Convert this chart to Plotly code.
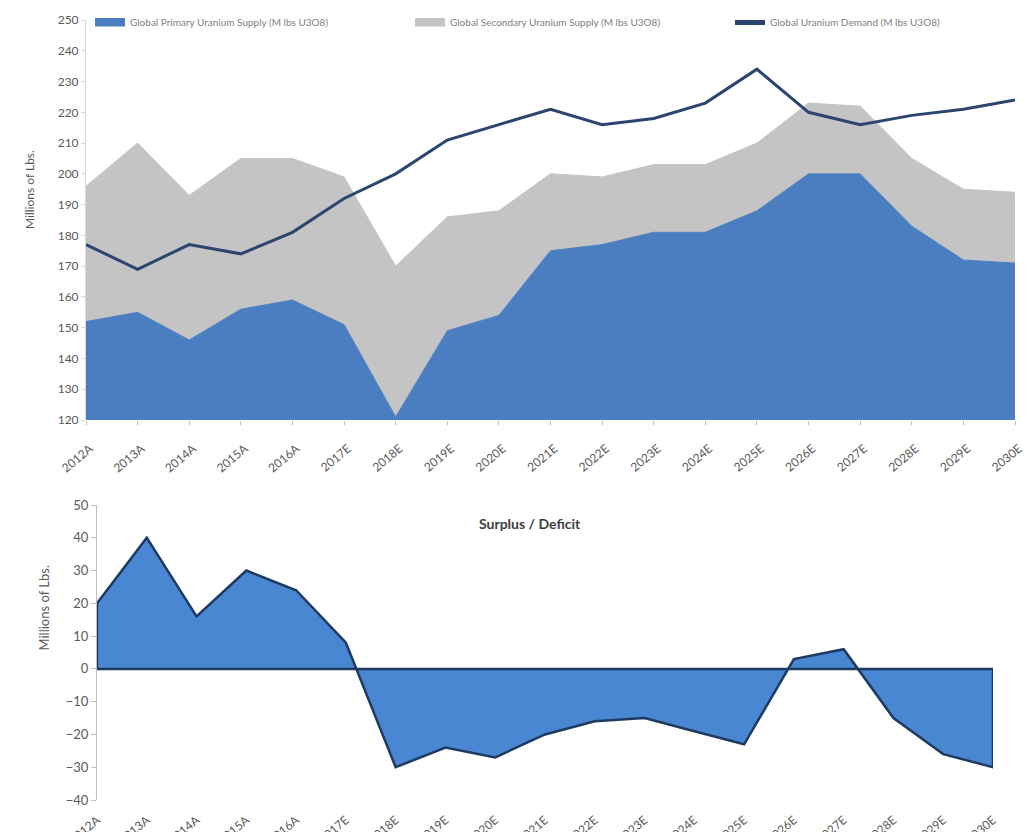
import plotly.graph_objects as go

categories = ["2012A", "2013A", "2014A", "2015A", "2016A", "2017E", "2018E", "2019E", "2020E",
              "2021E", "2022E", "2023E", "2024E", "2025E", "2026E", "2027E", "2028E", "2029E", "2030E"]
primary_supply = [152, 155, 146, 156, 159, 151, 121, 149, 154, 175, 177, 181, 181, 188, 200, 200, 183, 172, 171]
total_supply = [196, 210, 193, 205, 205, 199, 170, 186, 188, 200, 199, 203, 203, 210, 223, 222, 205, 195, 194]
demand = [177, 169, 177, 174, 181, 192, 200, 211, 216, 221, 216, 218, 223, 234, 220, 216, 219, 221, 224]
surplus = [20, 40, 16, 30, 24, 8, -30, -24, -27, -20, -16, -15, -19, -23, 3, 6, -15, -26, -30]

W, H = 1034, 832
OFF = 8  # page body margin
def px_x(p): return (p - OFF) / W
def px_y(p): return (H - (p - OFF)) / H

FONT = "Lato"
GREY_TXT = "#595959"

fig = go.Figure()

fig.add_trace(go.Scatter(
    x=categories, y=primary_supply, mode="lines", fill="tozeroy",
    line=dict(color="#4A7EC1", width=1), fillcolor="#4A7EC1",
    name="Global Primary Uranium Supply (M lbs U3O8)", xaxis="x", yaxis="y", legend="legend"))
fig.add_trace(go.Scatter(
    x=categories, y=total_supply, mode="lines", fill="tonexty",
    line=dict(color="#C4C4C4", width=1), fillcolor="#C4C4C4",
    name="Global Secondary Uranium Supply (M lbs U3O8)", xaxis="x", yaxis="y", legend="legend2"))
fig.add_trace(go.Scatter(
    x=categories, y=demand, mode="lines",
    line=dict(color="#2B4570", width=3),
    name="Global Uranium Demand (M lbs U3O8)", xaxis="x", yaxis="y", legend="legend3"))

# Surplus / deficit closed area (baseline back along zero)
poly_x = categories + [categories[-1], categories[0], categories[0]]
poly_y = surplus + [0, 0, surplus[0]]
fig.add_trace(go.Scatter(
    x=poly_x, y=poly_y, mode="lines", fill="toself",
    line=dict(color="#1F3A60", width=2.5), fillcolor="#4A87D3",
    showlegend=False, xaxis="x2", yaxis="y2"))

def leg(xpx):
    return dict(orientation="h", x=px_x(xpx), y=1, xanchor="left", yanchor="top",
                font=dict(size=10, color="#808080"), bgcolor="rgba(0,0,0,0)",
                itemsizing="constant")

fig.update_layout(
    width=W, height=H,
    margin=dict(l=0, r=0, t=0, b=0),
    paper_bgcolor="white", plot_bgcolor="white",
    font=dict(family=FONT, color=GREY_TXT),
    showlegend=True,
    legend=leg(90), legend2=leg(410), legend3=leg(730),
    xaxis=dict(domain=[px_x(86), px_x(1015)], anchor="y", type="category",
               categoryorder="array", categoryarray=categories,
               range=[0, len(categories) - 1], showgrid=False, zeroline=False,
               showline=False, ticks="outside", ticklen=4, tickcolor="#BFBFBF",
               tickangle=-40, ticklabelstandoff=12, ticklabelshift=4,
               tickfont=dict(size=12, color=GREY_TXT), automargin=False),
    yaxis=dict(domain=[px_y(420), px_y(20)], anchor="x", range=[120, 250], dtick=10,
               showgrid=False, zeroline=False, showline=True, linecolor="#D9D9D9",
               ticks="outside", ticklen=4, tickcolor="#D9D9D9",
               tickfont=dict(size=12, color=GREY_TXT), automargin=False),
    xaxis2=dict(domain=[px_x(97), px_x(993)], anchor="y2", type="category",
                categoryorder="array", categoryarray=categories,
                range=[0, len(categories) - 1], showgrid=False, zeroline=False,
                showline=False, ticks="", tickangle=-40, ticklabelstandoff=10,
                tickfont=dict(size=12, color=GREY_TXT), automargin=False),
    yaxis2=dict(domain=[px_y(800), px_y(505)], anchor="x2", range=[-40, 50], dtick=10,
                showgrid=False, zeroline=False, showline=True, linecolor="#BFBFBF",
                ticks="outside", ticklen=5, tickcolor="#BFBFBF",
                tickfont=dict(size=13, color=GREY_TXT), automargin=False),
    annotations=[
        dict(text="Millions of Lbs.", x=px_x(20), y=px_y(148), xref="paper", yref="paper",
             textangle=-90, showarrow=False, font=dict(size=12, color=GREY_TXT)),
        dict(text="Millions of Lbs.", x=px_x(33), y=px_y(653), xref="paper", yref="paper",
             textangle=-90, showarrow=False, font=dict(size=13, color=GREY_TXT)),
        dict(text="<b>Surplus / Deficit</b>", x=px_x(530), y=px_y(523), xref="paper", yref="paper",
             showarrow=False, font=dict(size=14, color="#404040")),
    ],
)

fig.write_html("out.html")
